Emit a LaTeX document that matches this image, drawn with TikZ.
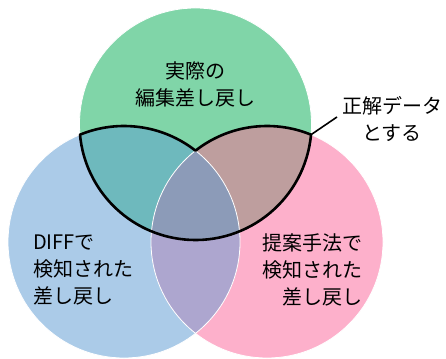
\documentclass[tikz,border=0pt]{standalone}
\usepackage{fontspec}
\usetikzlibrary{calc}
\setmainfont{Noto Sans CJK JP}
\definecolor{cg}{RGB}{128,213,168}
\definecolor{cb}{RGB}{171,203,232}
\definecolor{cp}{RGB}{253,176,203}
\definecolor{cgb}{RGB}{110,185,189}
\definecolor{cgp}{RGB}{190,158,158}
\definecolor{cbp}{RGB}{173,166,207}
\definecolor{cgbp}{RGB}{140,155,184}
\tikzset{
  lbl/.style={font=\fontsize{20}{27}\selectfont, inner sep=0pt},
  rim/.style={draw=white, line width=0.8pt},
  outline/.style={draw=black, line width=2.6pt, line join=round},
  leader/.style={draw=black, line width=1.6pt}
}
\begin{document}
\begin{tikzpicture}[x=1pt,y=-1pt]
\useasboundingbox (0,0) rectangle (446,358);
\coordinate (T) at (195.5,124);
\coordinate (L) at (124,242);
\coordinate (R) at (267,242);
\def\rr{116}
% base fills
\fill[cb] (L) circle[radius=\rr];
\fill[cp] (R) circle[radius=\rr];
\fill[cg] (T) circle[radius=\rr];
% pairwise overlaps
\begin{scope}
  \clip (L) circle[radius=\rr];
  \fill[cbp] (R) circle[radius=\rr];
\end{scope}
\begin{scope}
  \clip (T) circle[radius=\rr];
  \fill[cgb] (L) circle[radius=\rr];
  \fill[cgp] (R) circle[radius=\rr];
\end{scope}
\begin{scope}
  \clip (T) circle[radius=\rr];
  \clip (L) circle[radius=\rr];
  \fill[cgbp] (R) circle[radius=\rr];
\end{scope}
% thin white rims
\draw[rim] (L) circle[radius=\rr];
\draw[rim] (R) circle[radius=\rr];
\draw[rim] (T) circle[radius=\rr];
% thick outline of the correct-data region (y axis points down, so angles are negated)
\coordinate (P1) at ($(L)+(-112.30:\rr)$);
\coordinate (P2) at ($(R)+(-67.70:\rr)$);
\draw[outline] (P1) arc[start angle=-112.30, end angle=-51.95, radius=\rr]
  arc[start angle=-128.05, end angle=-67.70, radius=\rr]
  arc[start angle=5.28, end angle=174.72, radius=\rr] -- cycle;
% labels
\node[lbl, align=center] (top) at (195.5,84) {実際の\\編集差し戻し};
\node[lbl, align=left, anchor=west] (left) at (33,270) {DIFFで\\検知された\\差し戻し};
\node[lbl, align=right, anchor=east] (right) at (363,270) {提案手法で\\検知された\\差し戻し};
\node[lbl, align=center] (ans) at (392,119) {正解データ\\とする};
\coordinate (tip) at (337,117);
\draw[leader] (P2) -- (tip);
\end{tikzpicture}
\end{document}
